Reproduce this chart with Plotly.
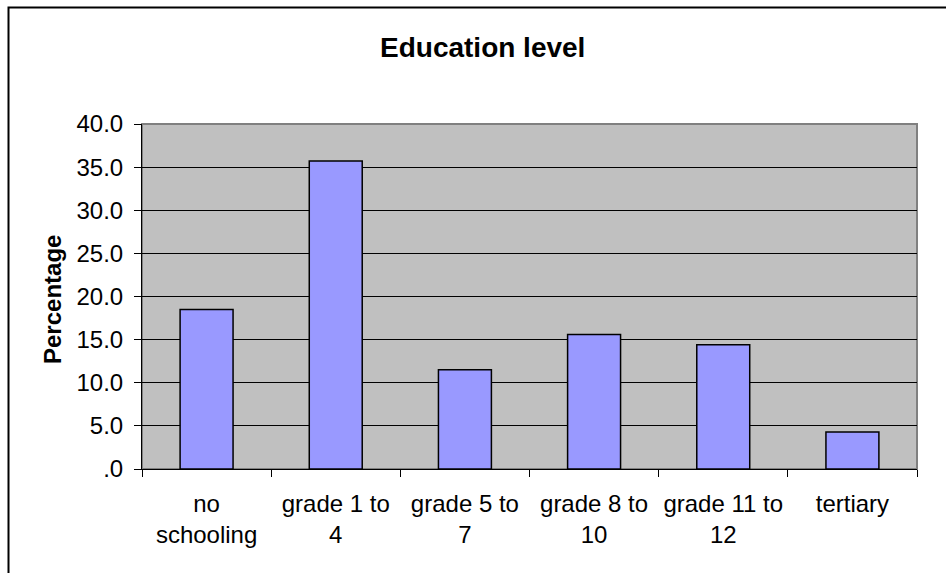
import plotly.graph_objects as go

# Education level distribution (percent of respondents)
categories = ["no<br>schooling", "grade 1 to<br>4", "grade 5 to<br>7",
              "grade 8 to<br>10", "grade 11 to<br>12", "tertiary"]
percentages = [18.5, 35.7, 11.5, 15.6, 14.4, 4.3]

y_tick_values = [0, 5, 10, 15, 20, 25, 30, 35, 40]
y_tick_labels = [".0", "5.0", "10.0", "15.0", "20.0", "25.0", "30.0", "35.0", "40.0"]

W, H = 946, 573
L, R, T, B = 142, 29, 124, 104
pw, ph = W - L - R, H - T - B

def px_x(x):
    return (x - L) / pw

def px_y(y):
    return (H - B - y) / ph

FONT = "Liberation Sans, Arial, sans-serif"

fig = go.Figure(
    go.Bar(
        x=categories,
        y=percentages,
        marker=dict(color="#9999FF", line=dict(color="#000000", width=1.5)),
    )
)

fig.update_layout(
    width=W,
    height=H,
    margin=dict(l=L, r=R, t=T, b=B),
    paper_bgcolor="#FFFFFF",
    plot_bgcolor="#C0C0C0",
    bargap=0.59,
    showlegend=False,
    font=dict(family=FONT, size=24, color="#000000"),
    xaxis=dict(
        type="category",
        tickson="boundaries",
        ticks="outside",
        ticklen=7,
        tickcolor="#000000",
        ticklabelstandoff=13,
        showline=True,
        linecolor="#000000",
        linewidth=1,
        showgrid=False,
        tickfont=dict(family=FONT, size=24, color="#000000"),
    ),
    yaxis=dict(
        range=[0, 40],
        tickvals=y_tick_values,
        ticktext=y_tick_labels,
        ticks="outside",
        ticklen=7,
        tickcolor="#000000",
        ticklabelstandoff=6,
        showline=True,
        linecolor="#000000",
        linewidth=1,
        showgrid=True,
        gridcolor="#000000",
        gridwidth=1,
        zeroline=False,
        tickfont=dict(family=FONT, size=24, color="#000000"),
    ),
    shapes=[
        # plot-area frame (top and right edges in gray)
        dict(type="rect", xref="paper", yref="paper", x0=0, x1=1, y0=0, y1=1,
             line=dict(color="#808080", width=2), layer="below"),
        # chart-area border
        dict(type="rect", xref="paper", yref="paper",
             x0=px_x(8.5), x1=px_x(960), y0=px_y(590), y1=px_y(7.5),
             line=dict(color="#000000", width=2)),
    ],
    annotations=[
        dict(text="<b>Education level</b>", xref="paper", yref="paper",
             x=px_x(482.5), y=px_y(47), xanchor="center", yanchor="middle",
             showarrow=False, font=dict(family=FONT, size=28, color="#000000")),
        dict(text="<b>Percentage</b>", xref="paper", yref="paper",
             x=px_x(52), y=px_y(300), xanchor="center", yanchor="middle",
             textangle=-90, showarrow=False,
             font=dict(family=FONT, size=24, color="#000000")),
    ],
)

fig.write_html("out.html")
